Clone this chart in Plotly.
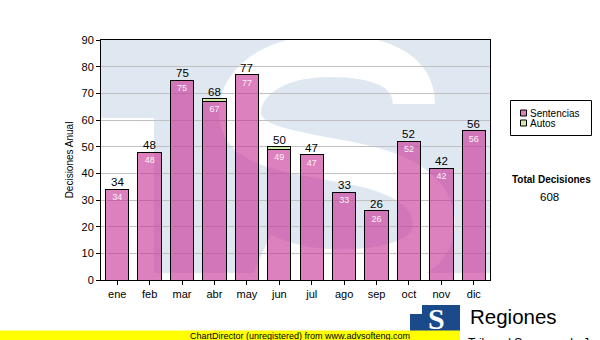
import plotly.graph_objects as go

# ---- data ----
months = ["ene", "feb", "mar", "abr", "may", "jun", "jul", "ago", "sep", "oct", "nov", "dic"]
sentencias = [34, 48, 75, 67, 77, 49, 47, 33, 26, 52, 42, 56]
autos = [0, 0, 0, 1, 0, 1, 0, 0, 0, 0, 0, 0]
y_ticks = [0, 10, 20, 30, 40, 50, 60, 70, 80, 90]
series_names = ["Sentencias", "Autos"]
y_title = "Decisiones Anual"
total_title = "Total Decisiones"

totals = [s + a for s, a in zip(sentencias, autos)]
grand_total = sum(totals)

W, H = 600, 340
L, R, T, B = 101, 110, 40, 60
PW, PH = W - L - R, H - T - B


def PX(x):
    return (x - L) / PW


def PY(y):
    return (H - B - y) / PH


FONT = "Liberation Sans, Arial, sans-serif"
PINK = "rgba(200,50,150,0.62)"
PINK_SOLID = "#dc80be"
GREEN = "#cfeaa0"
WM_BLUE = "#dfe8f1"

fig = go.Figure()
fig.add_trace(go.Bar(
    x=months, y=sentencias, name=series_names[0],
    marker=dict(color=PINK, line=dict(color="black", width=1)),
    text=[str(v) for v in sentencias], textposition="inside",
    insidetextanchor="end", constraintext="none",
    textfont=dict(family=FONT, size=9, color="rgba(255,255,255,0.92)"),
    showlegend=False,
))
fig.add_trace(go.Bar(
    x=months, y=[a if a else None for a in autos], name=series_names[1],
    marker=dict(color=GREEN, line=dict(color="black", width=1)),
    showlegend=False,
))

annotations = []
for m, t in zip(months, totals):
    annotations.append(dict(x=m, y=t, xref="x", yref="y", text=str(t), showarrow=False,
                            xanchor="center", yanchor="bottom", yshift=-1,
                            font=dict(family=FONT, size=11.5, color="black")))

# ---- watermark (decorative S logo behind the plot) ----
def path_from(points):
    (x0, y0), rest = points[0], points[1:]
    s = f"M {PX(x0):.4f},{PY(y0):.4f}"
    for i in range(0, len(rest), 3):
        c = rest[i:i + 3]
        s += " C " + " ".join(f"{PX(a):.4f},{PY(b):.4f}" for a, b in c)
    return s

s_curve = [(414, 104),
           (414, 70), (380, 56), (330, 56),
           (270, 56), (238, 85), (240, 115),
           (242, 150), (300, 152), (360, 165),
           (420, 178), (440, 205), (432, 235),
           (424, 262), (380, 272), (330, 270),
           (300, 269), (280, 262), (262, 254)]

shapes = [
    dict(type="rect", xref="paper", yref="paper", x0=0, x1=1, y0=PY(273), y1=1,
         fillcolor=WM_BLUE, line=dict(width=0), layer="below"),
    dict(type="rect", xref="paper", yref="paper", x0=0, x1=PX(154), y0=0, y1=PY(118),
         fillcolor="white", line=dict(width=0), layer="below"),
    dict(type="path", xref="paper", yref="paper", path=path_from(s_curve),
         line=dict(color="white", width=42), layer="below"),
]

# ---- manual legend ----
shapes.append(dict(type="rect", xref="paper", yref="paper",
                   x0=PX(510.5), x1=PX(591.5), y0=PY(135.5), y1=PY(100.5),
                   fillcolor="white", line=dict(color="black", width=1)))
for i, (nm, col) in enumerate(zip(series_names, [PINK_SOLID, GREEN])):
    yc = 113 + 10 * i
    shapes.append(dict(type="rect", xref="paper", yref="paper",
                       x0=PX(520.5), x1=PX(526.5), y0=PY(yc + 3), y1=PY(yc - 3),
                       fillcolor=col, line=dict(color="black", width=1)))
    annotations.append(dict(x=PX(528), y=PY(yc), xref="paper", yref="paper", text=nm,
                            showarrow=False, xanchor="left", yanchor="middle",
                            font=dict(family=FONT, size=10, color="black")))

annotations.append(dict(x=PX(551), y=PY(180), xref="paper", yref="paper",
                        text=f"<b>{total_title}</b>", showarrow=False,
                        xanchor="center", yanchor="middle",
                        font=dict(family=FONT, size=10, color="black")))
annotations.append(dict(x=PX(549), y=PY(197), xref="paper", yref="paper",
                        text=str(grand_total), showarrow=False,
                        xanchor="center", yanchor="middle",
                        font=dict(family=FONT, size=11.5, color="black")))

# ---- footer: logo, yellow bar ----
shapes.append(dict(type="rect", xref="paper", yref="paper",
                   x0=PX(410), x1=PX(460), y0=PY(331), y1=PY(305),
                   fillcolor="#1a4a8a", line=dict(width=0)))
shapes.append(dict(type="rect", xref="paper", yref="paper",
                   x0=PX(410), x1=PX(422), y0=PY(314), y1=PY(305),
                   fillcolor="white", line=dict(width=0)))
annotations.append(dict(x=PX(436), y=PY(318), xref="paper", yref="paper", text="<b>S</b>",
                        showarrow=False, xanchor="center", yanchor="middle",
                        font=dict(family="Liberation Serif, serif", size=30, color="white")))
annotations.append(dict(x=PX(468), y=PY(316), xref="paper", yref="paper", text="Regiones",
                        showarrow=False, xanchor="left", yanchor="middle",
                        font=dict(family=FONT, size=20.5, color="black")))
annotations.append(dict(x=PX(466), y=PY(334), xref="paper", yref="paper",
                        text="Tribunal Supremo de Justicia",
                        showarrow=False, xanchor="left", yanchor="top",
                        font=dict(family=FONT, size=12, color="black")))
shapes.append(dict(type="rect", xref="paper", yref="paper",
                   x0=PX(0), x1=PX(460), y0=PY(340), y1=PY(330.5),
                   fillcolor="#ffff00", line=dict(width=0)))
annotations.append(dict(x=PX(300), y=PY(335.5), xref="paper", yref="paper",
                        text="ChartDirector (unregistered) from www.advsofteng.com",
                        showarrow=False, xanchor="center", yanchor="middle",
                        font=dict(family=FONT, size=9, color="black")))

fig.update_layout(
    width=W, height=H,
    margin=dict(l=L, r=R, t=T, b=B, pad=0),
    barmode="stack", bargap=0.28,
    plot_bgcolor="rgba(0,0,0,0)", paper_bgcolor="white",
    font=dict(family=FONT, size=11, color="black"),
    shapes=shapes, annotations=annotations,
    showlegend=False,
)
fig.update_xaxes(showline=True, linecolor="black", linewidth=1, mirror=True,
                 ticks="outside", ticklen=4, tickcolor="black",
                 tickfont=dict(family=FONT, size=11, color="black"))
fig.update_yaxes(range=[0, 90], tickvals=y_ticks, showline=True, linecolor="black",
                 linewidth=1, mirror=True, ticks="outside", ticklen=4, tickcolor="black",
                 showgrid=True, gridcolor="#c0c0c0", gridwidth=1, zeroline=False,
                 tickfont=dict(family=FONT, size=11, color="black"),
                 title=dict(text=y_title, font=dict(family=FONT, size=10, color="black"), standoff=6))

fig.write_html("out.html", config={"displayModeBar": False},
               post_script="document.body.style.margin='0';document.body.style.overflow='hidden';")
